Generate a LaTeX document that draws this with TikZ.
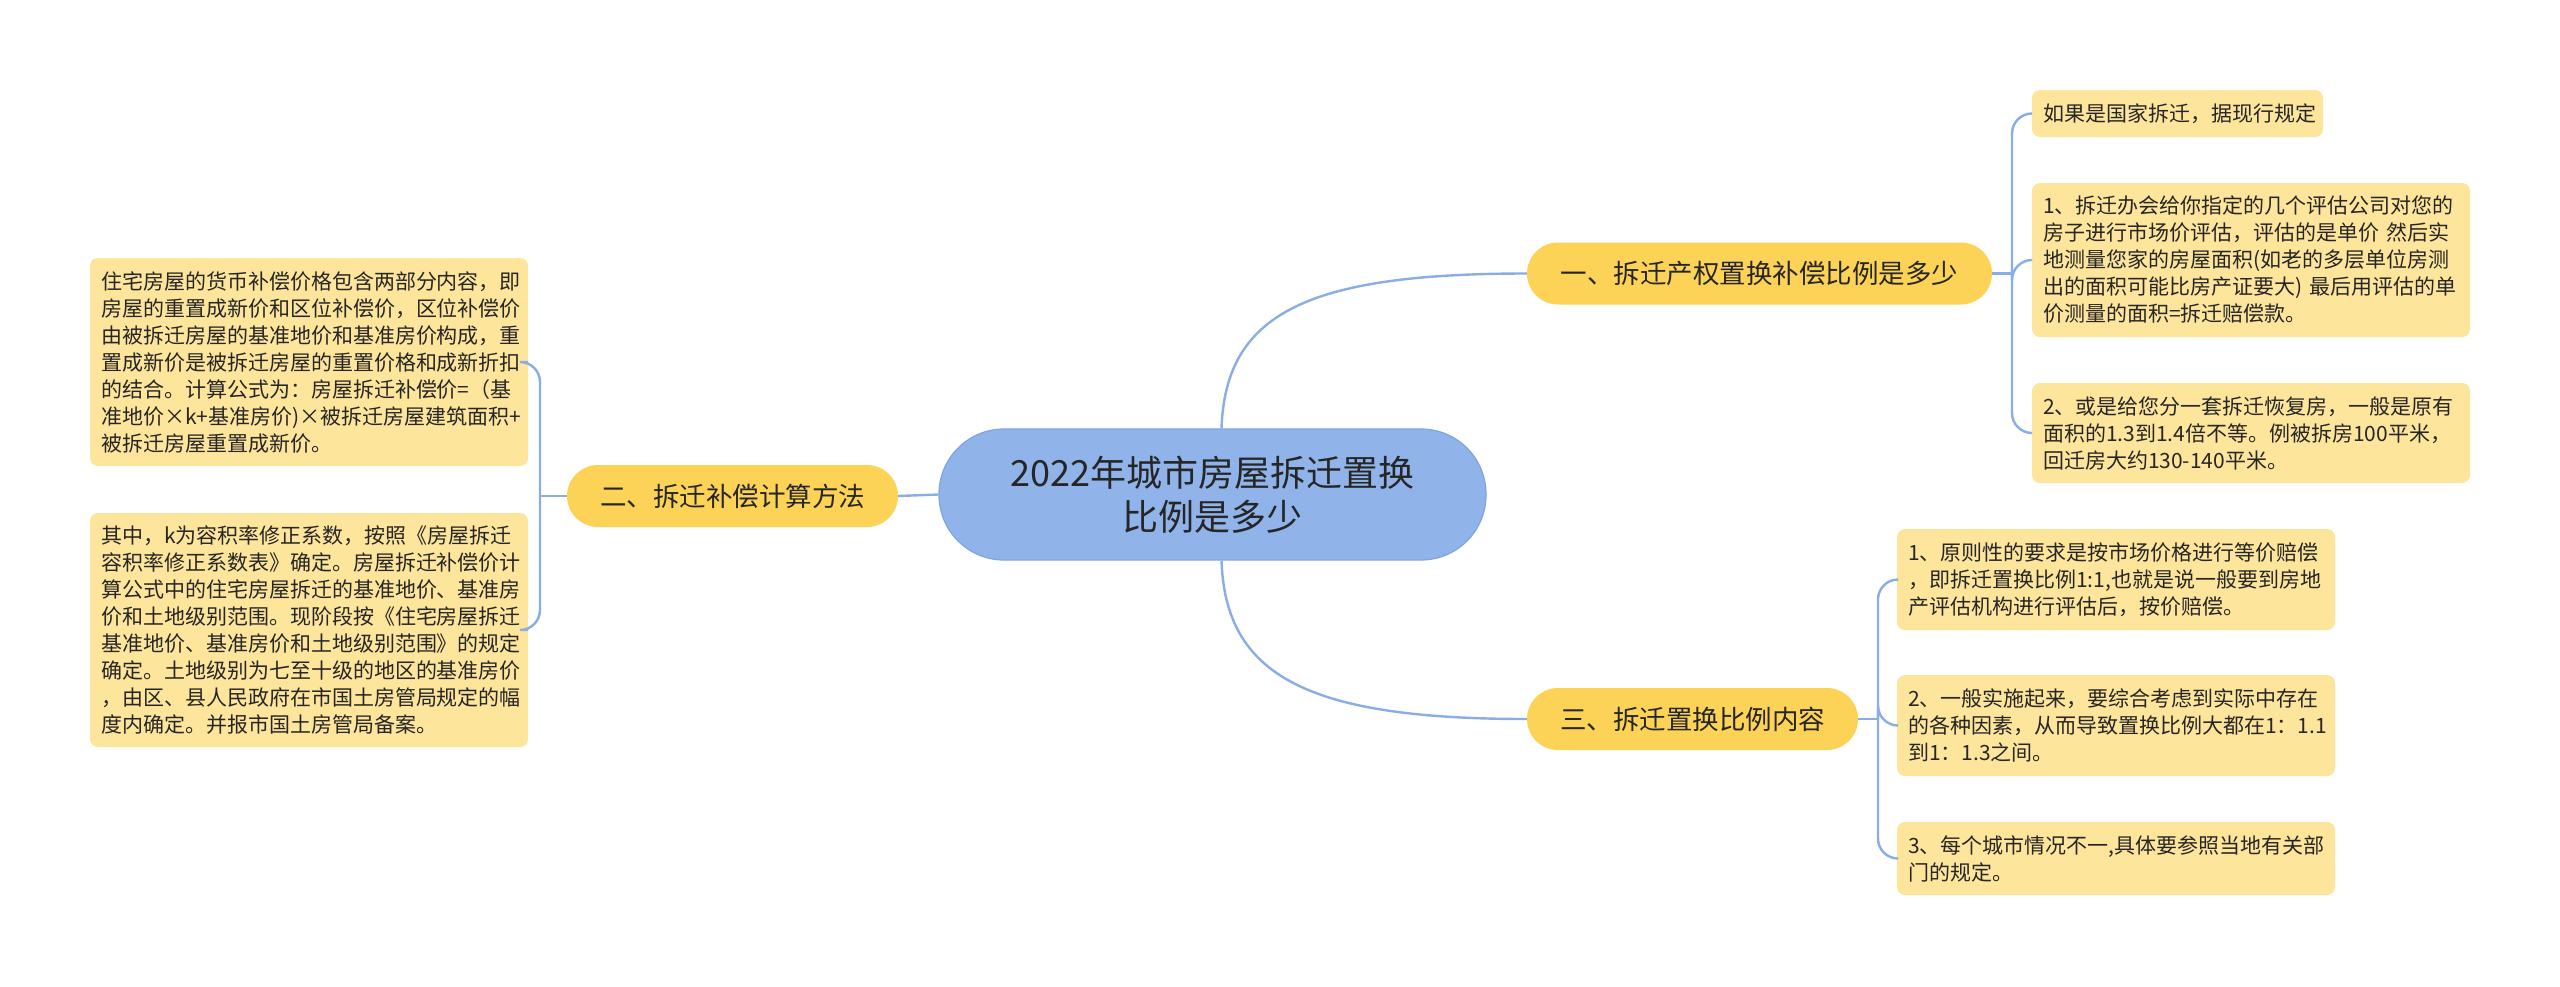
\documentclass[tikz,border=0pt]{standalone}
\usepackage{fontspec}
\usetikzlibrary{calc}
\setmainfont{Noto Sans CJK SC}
\definecolor{rootfill}{HTML}{90B3EA}
\definecolor{rootline}{HTML}{7FA4E2}
\definecolor{branchfill}{HTML}{FCD356}
\definecolor{leaffill}{HTML}{FEE59C}
\definecolor{linkcol}{HTML}{8AADE5}
\definecolor{txt}{HTML}{262626}
\begin{document}
\begin{tikzpicture}[x=1pt,y=-1pt,
  rootbox/.style={rectangle, rounded corners=65pt, fill=rootfill, draw=rootline, line width=1.2pt,
    minimum width=547pt, minimum height=131pt, align=center, text=txt,
    font=\fontsize{36}{44}\selectfont, inner sep=0pt},
  branchbox/.style={rectangle, rounded corners=31pt, fill=branchfill,
    minimum height=62pt, align=center, text=txt,
    font=\fontsize{26.5}{32}\selectfont, inner sep=0pt},
  leafbox/.style={rectangle, rounded corners=8pt, fill=leaffill, text=txt,
    inner xsep=11pt, inner ysep=0pt, text width=416pt, align=left,
    font=\fontsize{21}{27}\selectfont},
  link/.style={draw=linkcol, line width=2.4pt},
  elbow/.style={link, rounded corners=20pt}
]
\useasboundingbox[fill=white] (0,0) rectangle (2560,986);

% root
\node[rootbox] (root) at (1212.5,494.5) {2022年城市房屋拆迁置换\\比例是多少};

% branches
\node[branchbox, minimum width=465pt] (b1) at (1759.5,273.5) {一、拆迁产权置换补偿比例是多少};
\node[branchbox, minimum width=331pt] (b2) at (732.5,496) {二、拆迁补偿计算方法};
\node[branchbox, minimum width=331pt] (b3) at (1692.5,719) {三、拆迁置换比例内容};

% leaves of branch 1
\node[leafbox, text width=269pt, minimum height=47pt] (l1a) at (2177.5,113.5) {如果是国家拆迁，据现行规定};
\node[leafbox, minimum height=154pt] (l1b) at (2251,260) {1、拆迁办会给你指定的几个评估公司对您的\\房子进行市场价评估，评估的是单价 然后实\\地测量您家的房屋面积(如老的多层单位房测\\出的面积可能比房产证要大) 最后用评估的单\\价测量的面积=拆迁赔偿款。};
\node[leafbox, minimum height=100pt] (l1c) at (2251,433) {2、或是给您分一套拆迁恢复房，一般是原有\\面积的1.3到1.4倍不等。例被拆房100平米，\\回迁房大约130-140平米。};

% leaves of branch 3
\node[leafbox, minimum height=101pt] (l3a) at (2116,579.5) {1、原则性的要求是按市场价格进行等价赔偿\\，即拆迁置换比例1:1,也就是说一般要到房地\\产评估机构进行评估后，按价赔偿。};
\node[leafbox, minimum height=101pt] (l3b) at (2116,725.5) {2、一般实施起来，要综合考虑到实际中存在\\的各种因素，从而导致置换比例大都在1：1.1\\到1：1.3之间。};
\node[leafbox, minimum height=73pt] (l3c) at (2116,858.5) {3、每个城市情况不一,具体要参照当地有关部\\门的规定。};

% leaves of branch 2
\node[leafbox, minimum height=208pt] (l2a) at (309,362) {住宅房屋的货币补偿价格包含两部分内容，即\\房屋的重置成新价和区位补偿价，区位补偿价\\由被拆迁房屋的基准地价和基准房价构成，重\\置成新价是被拆迁房屋的重置价格和成新折扣\\的结合。计算公式为：房屋拆迁补偿价=（基\\准地价×k+基准房价)×被拆迁房屋建筑面积+\\被拆迁房屋重置成新价。};
\node[leafbox, minimum height=234pt] (l2b) at (309,630) {其中，k为容积率修正系数，按照《房屋拆迁\\容积率修正系数表》确定。房屋拆迁补偿价计\\算公式中的住宅房屋拆迁的基准地价、基准房\\价和土地级别范围。现阶段按《住宅房屋拆迁\\基准地价、基准房价和土地级别范围》的规定\\确定。土地级别为七至十级的地区的基准房价\\，由区、县人民政府在市国土房管局规定的幅\\度内确定。并报市国土房管局备案。};

% junctions
\coordinate (j1) at (2012,273.5);
\coordinate (j2) at (540,496);
\coordinate (j3) at (1878,719);
\coordinate (rt) at ($(root.north)+(9,0)$);
\coordinate (rb) at ($(root.south)+(9,0)$);

% root links
\draw[link] (rt) .. controls +(4,-115) and +(-220,0) .. (b1.west);
\draw[link] (rb) .. controls +(4,115) and +(-220,0) .. (b3.west);
\draw[link] (root.west) -- (b2.east);

% branch 1 links
\draw[link] (b1.east) -- (j1);
\draw[elbow] (j1) |- (l1a.west);
\draw[elbow] (j1) |- (l1b.west);
\draw[elbow] (j1) |- (l1c.west);

% branch 2 links
\draw[link] (b2.west) -- (j2);
\draw[elbow] (j2) |- (l2a.east);
\draw[elbow] (j2) |- (l2b.east);

% branch 3 links
\draw[link] (b3.east) -- (j3);
\draw[elbow] (j3) |- (l3a.west);
\draw[elbow] (j3) |- (l3b.west);
\draw[elbow] (j3) |- (l3c.west);
\end{tikzpicture}
\end{document}
